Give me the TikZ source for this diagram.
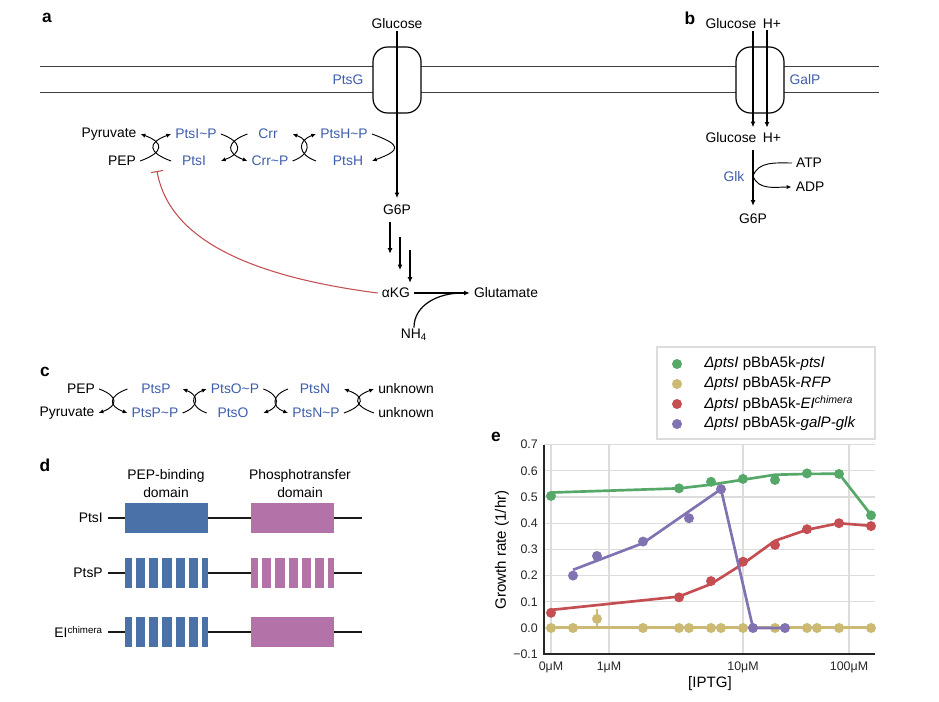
\documentclass[tikz,border=0pt]{standalone}
\usepackage{fontspec}
\setmainfont{Liberation Sans}
\usetikzlibrary{arrows.meta}
\definecolor{ptsblue}{HTML}{3E5DAB}
\definecolor{domblue}{HTML}{4A72A8}
\definecolor{dompink}{HTML}{B473A8}
\definecolor{sgreen}{HTML}{55A868}
\definecolor{syellow}{HTML}{CCB974}
\definecolor{sred}{HTML}{C44E52}
\definecolor{spurple}{HTML}{8172B2}
\definecolor{gridgray}{HTML}{DCDCDC}
\newcommand\plotfont{\fontsize{11.3}{13}\selectfont}
\newcommand\tickfont{\fontsize{9.3}{11}\selectfont}
\tikzset{
  lbl/.style={inner xsep=3pt,inner ysep=1pt},
  prot/.style={lbl,text=ptsblue},
  panel/.style={font=\fontsize{13}{14}\selectfont\bfseries},
  mem/.style={line width=0.7pt,black!75},
  pore/.style={draw,fill=white,line width=0.9pt,rounded corners=11pt,minimum width=36pt,minimum height=49.5pt},
  flow/.style={line width=0.9pt,->},
  rx/.style={line width=0.7pt,-{Latex[length=3.6pt,width=3.2pt]},looseness=2.2},
  upR/.style={out=20,in=-20},
  dnR/.style={out=-20,in=20},
  upL/.style={out=160,in=200},
  dnL/.style={out=200,in=160},
  inh/.style={sred,line width=0.8pt,-{Bar[width=9pt]}},
  backbone/.style={line width=1.8pt,black!90},
  grid/.style={gridgray,line width=0.9pt},
  spine/.style={black!85,line width=1pt},
  mk/.style={circle,inner sep=0pt,minimum size=7.5pt},
  fit/.style={line width=2pt,line join=round}
}
\begin{document}
\begin{tikzpicture}[x=0.75pt,y=-0.75pt,font=\fontsize{10.4}{13.5}\selectfont,>={Latex[length=4.2pt,width=3.6pt]}]
\useasboundingbox (0,0) rectangle (939,702);

\node[panel] (la) at (47,18) {a};
\draw[mem] (40,66.7) -- (879,66.7);
\draw[mem] (40,92) -- (879,92);
\node[pore] (ptsg) at (397,80) {};
\node[pore] (galp) at (760,80) {};
\node[prot] (ptsgl) at (348,80) {PtsG};
\node[lbl] (gluA) at (397,24) {Glucose};
\node[lbl] (g6pA) at (397,210) {G6P};
\draw[flow,shorten >=4pt] (gluA) -- (g6pA);
\node[lbl] (pyrA) at (109,134) {Pyruvate};
\node[lbl] (pepA) at (122,161) {PEP};
\node[prot] (ptsip) at (196,134) {PtsI\textasciitilde P};
\node[prot] (ptsi) at (194,161) {PtsI};
\node[prot] (crr) at (268,134) {Crr};
\node[prot] (crrp) at (270,161) {Crr\textasciitilde P};
\node[prot] (ptship) at (344,134) {PtsH\textasciitilde P};
\node[prot] (ptsh) at (348,161) {PtsH};
\draw[rx,upR,looseness=2.4] (pepA.east) to (pyrA.east);
\draw[rx,upL,looseness=2.4] (ptsi.west -| ptsip.west) to (ptsip.west);
\draw[rx,dnR] (ptsip.east) to (ptsi.east -| ptsip.east);
\draw[rx,dnL] (crr.west -| crrp.west) to (crrp.west);
\draw[rx,upR,looseness=1.9] (crrp.east) to (crr.east -| crrp.east);
\draw[rx,upL,looseness=1.9] (ptsh.west -| ptship.west) to (ptship.west);
\draw[rx,dnR,looseness=3] (ptship.east) to (ptsh.east -| ptship.east);
\draw[flow] ([xshift=-5.25pt,yshift=-4pt]g6pA.south) -- ++(0,32);
\draw[flow] ([xshift=2.25pt,yshift=-15.5pt]g6pA.south) -- ++(0,33);
\draw[flow] ([xshift=9.75pt,yshift=-25pt]g6pA.south) -- ++(0,33);
\node[lbl] (akg) at (396,293) {αKG};
\node[lbl] (glut) at (506,293) {Glutamate};
\node[lbl] (nh4) at (414,335) {NH\textsubscript{4}};
\draw[flow] (akg) -- (glut);
\coordinate (join) at (462,293);
\draw[line width=0.9pt] (nh4.north) to[out=90,in=180] (join);
\coordinate (inhib) at (157,171);
\draw[inh] (akg.west) .. controls (215,272) and (166,222) .. (inhib);

\node[panel] (lb) at (690,18) {b};
\node[lbl] (gluBt) at (731,24) {Glucose};
\node[lbl] (hBt) at (772,24) {H+};
\node[lbl] (gluBb) at (731,138) {Glucose};
\node[lbl] (hBb) at (772,138) {H+};
\node[prot] (galpl) at (805,80) {GalP};
\draw[flow,shorten >=3pt] ([xshift=16.5pt]gluBt.south) -- ([xshift=16.5pt]gluBb.north);
\draw[flow,shorten >=3pt] ([xshift=-3.75pt]hBt.south) -- ([xshift=-3.75pt]hBb.north);
\node[lbl] (g6pB) at (753,219) {G6P};
\draw[flow,shorten <=4pt,shorten >=5pt] ([xshift=16.5pt]gluBb.south) -- (g6pB);
\node[prot] (glk) at (734,177) {Glk};
\node[lbl] (atp) at (809,163) {ATP};
\node[lbl] (adp) at (810,187) {ADP};
\coordinate (glkpt) at (753,176);
\draw[rx] (atp.west) to[out=180,in=70,looseness=1] (glkpt) to[out=-70,in=180,looseness=1] (adp.west);

\node[panel] (lc) at (45,372) {c};
\node[lbl] (pepC) at (81,389) {PEP};
\node[lbl] (pyrC) at (67,413) {Pyruvate};
\node[prot] (ptsp) at (156,389) {PtsP};
\node[prot] (ptspp) at (155,413) {PtsP\textasciitilde P};
\node[prot] (ptsop) at (235,389) {PtsO\textasciitilde P};
\node[prot] (ptso) at (233,413) {PtsO};
\node[prot] (ptsn) at (315,389) {PtsN};
\node[prot] (ptsnp) at (316,413) {PtsN\textasciitilde P};
\node[lbl] (unk1) at (406,389) {unknown};
\node[lbl] (unk2) at (406,413) {unknown};
\draw[rx,dnR] (pepC.east) to (pyrC.east);
\draw[rx,dnL] (ptsp.west -| ptspp.west) to (ptspp.west);
\draw[rx,upR,looseness=1.9] (ptspp.east) to (ptsp.east -| ptspp.east);
\draw[rx,upL,looseness=1.9] (ptso.west -| ptsop.west) to (ptsop.west);
\draw[rx,dnR,looseness=1.9] (ptsop.east) to (ptso.east -| ptsop.east);
\draw[rx,dnL,looseness=1.9] (ptsn.west -| ptsnp.west) to (ptsnp.west);
\draw[rx,upR,looseness=2.4] (ptsnp.east) to (ptsn.east -| ptsnp.east);
\draw[rx,upL,looseness=2.4] (unk2.west) to (unk1.west);

\node[panel] (ld) at (45,465) {d};
\node[lbl,align=center] (pepdom) at (166,484) {PEP-binding\\domain};
\node[lbl,align=center] (phdom) at (300,484) {Phosphotransfer\\domain};
\node[lbl,anchor=east] (rowI) at (107,518) {PtsI};
\node[lbl,anchor=east] (rowP) at (107,573) {PtsP};
\node[lbl,anchor=east] (rowE) at (107,632) {EI\textsuperscript{chimera}};
\draw[backbone] (108,518) -- (362,518);
\draw[backbone] (108,573) -- (362,573);
\draw[backbone] (108,632) -- (362,632);
\fill[domblue] (125,503) rectangle (208,533);
\fill[dompink] (251,503) rectangle (334,533);
\fill[domblue] (125,558) rectangle (208,588);
\fill[dompink] (251,558) rectangle (334,588);
\fill[domblue] (125,617) rectangle (208,647);
\fill[dompink] (251,617) rectangle (334,647);
\foreach \k in {0,...,5} {
  \fill[white] ({131.8+13.33*\k},556) rectangle ++(4,34);
  \fill[white] ({258.3+13.1*\k},556) rectangle ++(4,34);
  \fill[white] ({131.8+13.33*\k},615) rectangle ++(4,34);
}

\node[panel] (le) at (496,437) {e};
\foreach \v in {0,...,7} \draw[grid] (544,{628-26.2*\v}) -- (875,{628-26.2*\v});
\foreach \x in {551,609,743,849} \draw[grid] (\x,445) -- (\x,654);
\draw[spine] (544,445) -- (544,654) -- (875,654);
\foreach \v/\t in {7/0.7,6/0.6,5/0.5,4/0.4,3/0.3,2/0.2,1/0.1,0/0.0,-1/−0.1}
  \node[lbl,anchor=east,font=\tickfont,text=black!85] (yt\v) at (542,{628-26.2*\v}) {\t};
\foreach \x/\t in {551/0μM,609/1μM,743/10μM,849/100μM}
  \node[lbl,font=\tickfont,text=black!85] (xt\x) at (\x,667) {\t};
\node[lbl,font=\plotfont,rotate=90] (ylab) at (502,550) {Growth rate (1/hr)};
\node[lbl,font=\plotfont] (xlab) at (710,684) {[IPTG]};

\begin{scope}[shift={(0,628)},yscale=-262]
\draw[fit,sgreen] plot coordinates {(551,0.517) (679,0.533) (711,0.547) (743,0.566) (775,0.585) (807,0.588) (839,0.589) (871,0.432)};
\foreach \x/\v in {551/0.504,679/0.533,711/0.558,743/0.569,775/0.565,807/0.590,839/0.588,871/0.430}
  \node[mk,fill=sgreen] (gr\x) at (\x,\v) {};
\draw[fit,syellow] plot coordinates {(551,0.002) (871,0.002)};
\draw[syellow,line width=1.5pt] (597,-0.005) -- (597,0.071);
\foreach \x/\v in {551/0,573/0,597/0.035,643/0,679/0,689/0,711/0,721/0,743/0,775/0,807/0,817/0,839/0,871/0}
  \node[mk,fill=syellow] (ye\x) at (\x,\v) {};
\draw[fit,sred] plot coordinates {(551,0.069) (679,0.12) (711,0.168) (743,0.245) (775,0.333) (807,0.375) (839,0.40) (871,0.39)};
\foreach \x/\v in {551/0.058,679/0.117,711/0.179,743/0.253,775/0.317,807/0.377,839/0.400,871/0.389}
  \node[mk,fill=sred] (re\x) at (\x,\v) {};
\draw[fit,spurple] plot coordinates {(573,0.222) (643,0.324) (721,0.530) (753,0.0) (785,0.0)};
\foreach \x/\v in {573/0.200,597/0.275,643/0.330,689/0.419,721/0.530,753/0,785/0}
  \node[mk,fill=spurple] (pu\x) at (\x,\v) {};
\end{scope}

\draw[gridgray,fill=white,line width=0.9pt] (657,347) rectangle (875,439);
\node[mk,fill=sgreen] (lg1) at (677,364) {};
\node[mk,fill=syellow] (lg2) at (677,384) {};
\node[mk,fill=sred] (lg3) at (677,404) {};
\node[mk,fill=spurple] (lg4) at (677,424) {};
\node[lbl,anchor=west,font=\plotfont] (lt1) at (700,364) {\textit{ΔptsI} pBbA5k-\textit{ptsI}};
\node[lbl,anchor=west,font=\plotfont] (lt2) at (700,384) {\textit{ΔptsI} pBbA5k-\textit{RFP}};
\node[lbl,anchor=west,font=\plotfont] (lt3) at (700,404) {\textit{ΔptsI} pBbA5k-\textit{EI\textsuperscript{chimera}}};
\node[lbl,anchor=west,font=\plotfont] (lt4) at (700,424) {\textit{ΔptsI} pBbA5k-\textit{galP-glk}};
\end{tikzpicture}
\end{document}
